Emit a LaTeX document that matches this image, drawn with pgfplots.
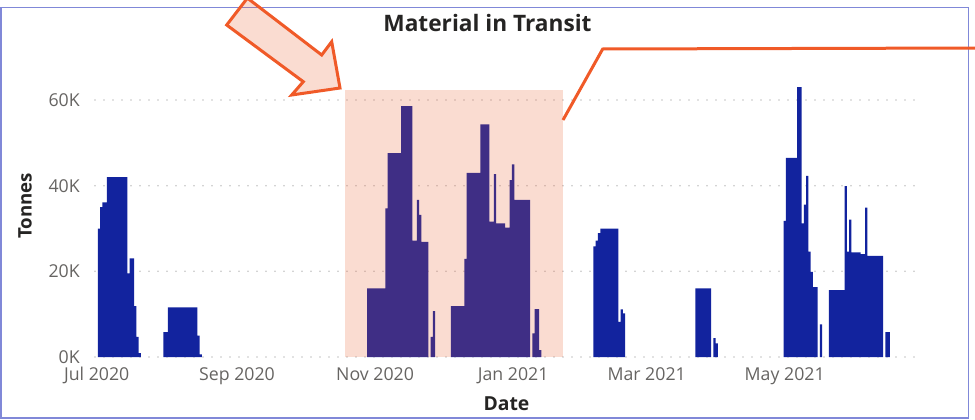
\documentclass[border=0pt]{standalone}
\usepackage{pgfplots}
\pgfplotsset{compat=1.18}
\usepackage{fontspec}
\setmainfont{Open Sans}
\definecolor{barblue}{RGB}{18,35,158}
\definecolor{hl}{RGB}{232,88,40}
\definecolor{arrowred}{RGB}{240,90,40}
\definecolor{framec}{RGB}{128,136,216}
\definecolor{ticktxt}{RGB}{102,100,98}
\definecolor{titletxt}{RGB}{37,36,35}
\definecolor{gridc}{RGB}{196,196,196}
\begin{document}
\begin{tikzpicture}[x=0.75pt,y=0.75pt]
\useasboundingbox (0,0) rectangle (975,419);
\draw[framec, line width=1.1pt] (1,411.7) rectangle (968.5,1);
\begin{axis}[
  at={(71.25pt,46.5pt)}, anchor=south west,
  scale only axis, width=617.25pt, height=208.8pt,
  xmin=-0.75, xmax=362.9, ymin=0, ymax=65,
  axis line style={draw=none}, tick style={draw=none},
  ytick={0,20,40,60}, yticklabels={0K,20K,40K,60K},
  xtick={0,62,123,184,243,304},
  xticklabels={Jul 2020,Sep 2020,Nov 2020,Jan 2021,Mar 2021,May 2021},
  ymajorgrids,
  major grid style={gridc, line width=1.3pt, dash pattern=on 0pt off 6.75pt, line cap=round},
  ticklabel style={font=\fontsize{13.3}{15}\selectfont, text=ticktxt},
  yticklabel style={anchor=east, inner sep=0pt, xshift=-11.25pt},
  xticklabel style={anchor=base, inner sep=0pt, yshift=-17.25pt},
  clip=false,
]
\addplot[ybar, bar width=1, fill=barblue, draw=none] table {
x y
1 30.0
2 35.0
3 36.1
4 36.1
5 42
6 42
7 42
8 42
9 42
10 42
11 42
12 42
13 42
14 19.5
15 23
16 23
17 11.9
18 4.7
19 0.9
30 5.8
31 5.8
32 11.6
33 11.6
34 11.6
35 11.6
36 11.6
37 11.6
38 11.6
39 11.6
40 11.6
41 11.6
42 11.6
43 11.6
44 11.6
45 5.0
46 0.6
120 16.0
121 16.0
122 16.0
123 16.0
124 16.0
125 16.0
126 16.0
127 16.0
128 34.7
129 47.6
130 47.6
131 47.6
132 47.6
133 47.6
134 47.6
135 58.6
136 58.6
137 58.6
138 58.6
139 58.6
140 27.2
141 27.2
142 36.7
143 33.2
144 26.9
145 26.9
146 26.9
148 4.7
149 10.7
157 11.9
158 11.9
159 11.9
160 11.9
161 11.9
162 11.9
163 22.9
164 43.0
165 43.0
166 43.0
167 43.0
168 43.0
169 43.0
170 54.3
171 54.3
172 54.3
173 54.3
174 31.6
175 31.6
176 42.7
177 31.2
178 31.2
179 31.2
180 31.2
181 30.2
182 30.2
183 41.3
184 45.0
185 36.7
186 36.7
187 36.7
188 36.7
189 36.7
190 36.7
191 36.7
193 5.5
194 11.2
195 11.2
196 1.6
220 25.8
221 27.2
222 28.9
223 30.0
224 30.0
225 30.0
226 30.0
227 30.0
228 30.0
229 30.0
230 30.0
231 8.2
232 11.1
233 10.2
265 16.0
266 16.0
267 16.0
268 16.0
269 16.0
270 16.0
271 16.0
273 4.4
274 3.2
304 31.8
305 46.5
306 46.5
307 46.5
308 46.5
309 46.5
310 63.0
311 63.0
312 31.2
313 35.6
314 42.3
315 24.6
316 19.9
317 16.3
318 16.3
320 7.6
324 15.6
325 15.6
326 15.6
327 15.6
328 15.6
329 15.6
330 15.6
331 39.9
332 24.6
333 32.1
334 24.4
335 24.4
336 24.4
337 24.4
338 24.0
339 24.0
340 34.9
341 23.6
342 23.6
343 23.6
344 23.6
345 23.6
346 23.6
347 23.6
349 5.8
350 5.8
};
\end{axis}
% highlight rectangle
\fill[hl, opacity=0.21] (345,62) rectangle (563,329);
% arrow
\filldraw[fill=hl, fill opacity=0.21, draw=arrowred, line width=2.25pt, line join=miter]
  (247.4,420.9) -- (226.7,394) -- (303.3,337.3) -- (291.7,324) -- (340,331) -- (331.7,377.3) -- (321.7,364) -- cycle;
% connector line
\draw[arrowred, line width=2.25pt, line join=miter] (563,299) -- (602.7,370) -- (980,371);
% titles
\node[font=\fontsize{17}{20}\selectfont\bfseries, text=titletxt, anchor=base] at (487.5,387.3) {Material in Transit};
\node[font=\fontsize{14.5}{17}\selectfont\bfseries, text=titletxt, anchor=base] at (506.5,9) {Date};
\node[font=\fontsize{14}{17}\selectfont\bfseries, text=titletxt, anchor=base, rotate=90] at (31.7,213) {Tonnes};
\end{tikzpicture}
\end{document}
